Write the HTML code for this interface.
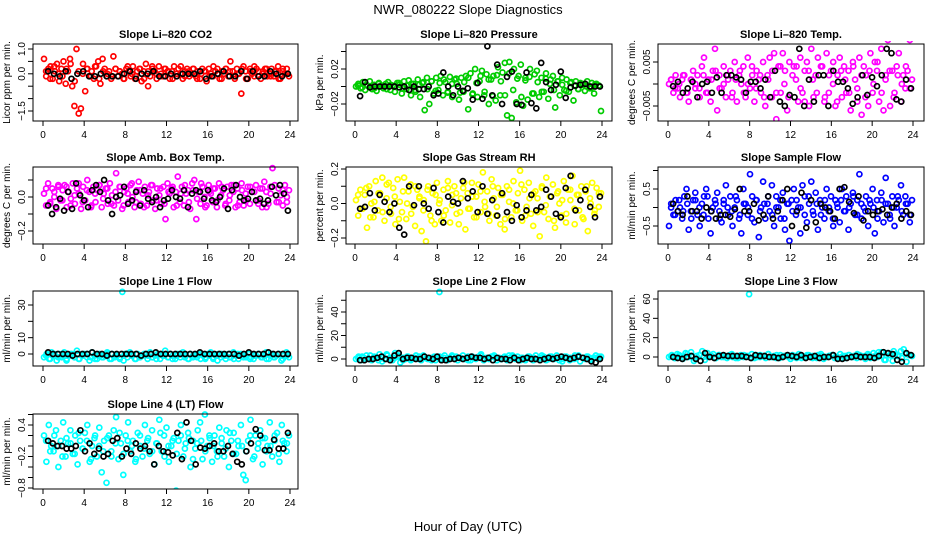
<!DOCTYPE html>
<html><head><meta charset="utf-8"><style>
html,body{margin:0;padding:0;background:#fff;}
svg{display:block;font-family:"Liberation Sans",sans-serif;}
</style></head><body>
<svg id="chart" width="936" height="540" viewBox="0 0 936 540">
<text x="468" y="14" text-anchor="middle" font-size="13">NWR_080222  Slope Diagnostics</text>
<text x="468" y="531" text-anchor="middle" font-size="13">Hour of Day (UTC)</text>
</svg>
<script>
const xTicks = [0,4,8,12,16,20,24];
const co2 = [0.6,-0.1,0.2,0.3,-0.2,0.1,0.4,-0.3,0.2,0.5,-0.4,0.1,0.6,-0.5,-1.3,1.0,-1.6,-1.4,0.4,-0.7,0.2,-0.1,0.1,-0.2,0.3,0.5,-0.4,0.6,0.2,-0.1,0.1,-0.2,0.7,0.2,-0.1,0.1,0.0,-0.2,0.2,0.1,-0.1,0.3,-0.2,0.1,0.2,-0.3,0.1,0.4,-0.5,-0.1,0.2,0.1,-0.2,0.3,0.0,-0.1,0.2,0.1,-0.2,0.1,0.3,-0.1,0.2,0.0,-0.2,0.1,0.2,-0.1,0.0,0.2,-0.1,0.1,-0.2,0.2,0.1,-0.3,0.2,0.0,-0.1,0.1,0.2,-0.2,0.1,0.0,0.2,-0.1,0.5,0.1,-0.2,0.2,0.0,-0.8,0.3,0.1,-0.2,0.2,0.0,-0.1,0.2,0.1,-0.2,0.1,0.2,-0.1,0.0,0.2,-0.1,0.1,0.3,-0.2,0.1,0.0,0.2,-0.1];
const co2Extra = [0.1,-0.2,0.3,0.0,-0.1,0.2,0.4,-0.3,0.1,0.0,0.2,-0.1,0.3,-0.2,0.1,0.0,-0.1,0.2,0.1,-0.2,0.3,0.0,-0.1,0.2,-0.2,0.1,0.3,0.0,-0.1,0.2,0.1,-0.2,0.0,0.3,-0.1,0.1,0.2,-0.2,0.0,0.1,-0.1,0.3,0.0,-0.2,0.2,0.1,-0.1,0.0,0.2,-0.2,0.1,0.3,-0.1,0.0,0.2,-0.1,0.1,-0.2,0.2,0.0];
const co2Hourly = [0.1,0.0,-0.1,0.1,-0.2,0.0,0.1,-0.1,-0.1,0.0,-0.1,-0.1,-0.1,0.0,0.1,-0.2,0.0,0.0,0.1,-0.1,-0.1,0.0,-0.1,0.0,0.0,0.0,0.1,-0.2,-0.1,0.0,0.1,-0.1,-0.1,0.1,-0.2,0.1,-0.1,-0.1,0.1,0.0,-0.1,0.0];
const pres = [0,0.003,-0.002,0.005,-0.004,0.001,0.006,-0.003,0.002,-0.005,0.004,0,-0.002,0.003,0.005,-0.004,0.001,-0.006,0.004,0.002,-0.008,0.006,-0.003,0.007,-0.01,0.003,-0.006,0.008,-0.012,0.004,-0.027,0.01,-0.02,0.006,-0.008,0.01,-0.004,0.012,-0.01,0.005,-0.007,0.011,-0.012,0.008,0.003,-0.015,0.01,-0.006,0.012,-0.026,0.015,-0.008,0.02,-0.012,0.006,0.018,-0.01,0.014,-0.02,0.008,0.012,-0.016,0.022,-0.01,0.016,0.027,-0.033,0.028,-0.036,0.02,-0.018,0.012,0.025,-0.022,0.01,-0.015,0.02,-0.008,0.014,0.018,-0.012,0.01,-0.006,0.015,-0.014,0.008,0.012,-0.024,0.006,-0.01,0.01,-0.004,0.008,-0.006,0.005,-0.016,0.006,-0.003,0.004,0.002,-0.005,0.006,-0.002,0.004,-0.008,0.003,0.001,-0.028];
const presExtra = [0.001,-0.001,0.002,0,-0.002,0.003,0.001,-0.003,0.002,0,0.004,-0.002,0.001,0.003,-0.004,0.002,0.005,-0.003,0.006,-0.005,0.004,0.008,-0.006,0.003,0.009,-0.007,0.005,0.01,-0.009,0.004,0.012,-0.006,0.008,-0.011,0.013,0.006,-0.01,0.015,-0.004,0.009,-0.012,0.007,0.011,-0.008,0.005,-0.006,0.009,0.003,-0.004,0.006,0.002,-0.005,0.004,0.001,-0.003,0.003,0,-0.002,0.002,0.001];
const presHourly = [-0.011,0.005,-0.001,0,0,0,0,0,-0.001,0,-0.004,0.0,-0.003,-0.003,0,-0.01,-0.008,0.016,0,-0.01,0,-0.005,-0.002,-0.015,0.004,-0.014,0.046,-0.01,0.025,-0.02,0.011,0.017,-0.02,-0.021,0.016,-0.019,-0.025,0.027,0.005,-0.004,0.002,0.017,-0.013,-0.001,0.001,0.002,0.003,0,0,0];
const temp = [0,0.001,-0.002,0.002,-0.001,-0.003,0.001,0.002,-0.002,-0.004,0.001,0.003,-0.001,0.002,-0.003,0.004,0.006,-0.002,0.001,-0.004,0.003,0.008,-0.006,0.002,-0.001,0.004,-0.003,0.001,0.003,-0.002,0.005,-0.004,0.002,0,0.004,-0.003,0.006,-0.001,0.002,-0.004,0.003,0.001,-0.002,0.005,-0.005,0.002,0.006,-0.003,0.007,-0.008,0.004,-0.002,0.007,0.003,-0.006,0.005,-0.009,0.004,0.001,-0.004,0.006,-0.002,0.003,0.005,-0.005,0.008,-0.003,0.002,0.006,-0.01,0.004,-0.004,0.007,-0.002,0.003,0.005,-0.005,0.002,0.006,-0.003,0.004,-0.002,0.003,-0.006,0.005,0.001,-0.004,0.006,-0.007,0.004,0.002,-0.005,0.007,-0.002,0.005,0.003,-0.004,0.008,-0.006,0.002,0.01,-0.005,0.003,-0.002,0.004,0.007,-0.004,0.002,-0.001,0.003,0.01,0.001];
const tempExtra = [0.001,-0.001,0,0.002,-0.002,0.001,0,-0.001,0.002,-0.002,0.001,0.003,-0.001,0,0.002,-0.003,0.001,0.003,-0.002,0,0.004,-0.001,0.002,-0.003,0.001,0.003,-0.002,0.004,0,-0.003,0.002,0.004,-0.001,-0.004,0.003,0.001,-0.002,0.004,-0.003,0.002,0,-0.004,0.003,0.001,-0.002,0.004,-0.001,0.002,-0.003,0.003,0,0.005,-0.002,0.001,0.003,-0.003,0.002,0,0.004,-0.001];
const tempHourly = [-0.0005,0.0005,-0.002,-0.001,0.0005,-0.003,0,0.0005,-0.002,0.0015,-0.002,0.002,0.002,0.0015,0.001,-0.002,0.0005,0.0005,-0.001,0.001,-0.003,0.003,-0.004,-0.005,-0.0025,-0.003,0.008,-0.005,0.001,-0.004,0.002,0.002,-0.005,0.003,0.0005,0.0005,-0.001,-0.0045,-0.003,0.002,-0.0025,0.0015,-0.0005,0.002,0.008,0.007,-0.0035,-0.004,0.001,-0.001];
const amb = [0.02,-0.05,0.08,-0.03,0.05,0.0,-0.07,0.06,-0.02,0.04,0.07,-0.06,0.03,-0.01,0.08,-0.04,0.05,0.02,-0.07,0.06,-0.02,0.1,0.03,-0.05,0.06,-0.03,0.04,0.07,-0.06,0.02,0.05,-0.04,0.08,0.01,-0.05,0.14,-0.02,0.06,-0.07,0.03,0.05,-0.03,0.07,0.0,-0.06,0.04,0.09,-0.04,0.02,0.06,-0.05,0.03,0.07,-0.02,-0.07,0.05,0.01,-0.04,0.06,-0.13,0.08,0.02,0.05,-0.06,0.03,0.12,-0.03,0.06,-0.05,0.02,0.04,-0.07,0.08,0.1,-0.13,0.03,-0.04,0.06,0.0,-0.05,0.07,0.02,-0.03,0.05,-0.06,0.08,0.01,0.04,-0.05,0.06,-0.02,0.07,0.03,-0.06,0.05,-0.03,0.08,-0.05,0.02,0.06,-0.04,0.03,-0.44,0.07,-0.02,0.05,-0.06,0.09,0.03,-0.04,0.06,0.17,0.22,-0.03,0.05,0.01,-0.05,0.07,-0.03,0.04];
const ambExtra = [0.05,-0.04,0.03,0.07,-0.02,0.06,-0.05,0.01,0.08,-0.03,0.04,-0.06,0.02,0.07,-0.01,0.05,-0.04,0.03,0.06,-0.05,0.02,0.08,-0.03,0.04,-0.06,0.01,0.07,-0.02,0.05,-0.04,0.03,0.06,-0.05,0.02,0.07,-0.03,0.04,-0.01,0.08,-0.06,0.03,0.05,-0.02,0.06,-0.04,0.01,0.07,-0.05,0.04,-0.02,0.06,0.03,-0.04,0.05,-0.06,0.02,0.07,-0.03,0.04,0.0];
const ambHourly = [-0.05,-0.1,-0.06,-0.01,-0.08,0.03,-0.07,0.08,0.01,-0.02,-0.06,0.04,0.07,0.03,0.1,-0.02,-0.1,0.0,0.01,0.06,-0.04,-0.02,0.03,-0.05,0.04,-0.01,-0.03,0.0,-0.06,-0.02,-0.01,0.04,0.0,-0.01,0.04,-0.06,0.02,0.04,0.03,-0.01,0.04,-0.02,-0.03,0.0,0.05,-0.07,0.04,0.07,0.0,-0.02,-0.01,0.03,-0.02,-0.01,-0.04,-0.02,0.06,0.01,0.07,0.02,-0.08];
const rh = [0.02,-0.07,0.08,-0.03,0.05,-0.14,0.1,0.0,-0.08,0.13,-0.04,0.06,0.15,-0.1,0.03,0.12,-0.06,0.09,-0.12,0.14,0.01,-0.05,0.15,-0.09,0.07,0.11,-0.02,-0.13,0.08,0.04,-0.16,0.02,-0.22,0.1,-0.07,0.06,-0.12,0.12,0.0,-0.1,0.08,-0.04,0.13,-0.11,0.05,0.1,-0.06,-0.12,0.03,0.09,-0.15,0.06,-0.03,0.12,-0.08,0.04,0.11,-0.05,0.18,-0.02,0.07,-0.1,0.14,0.03,-0.07,0.09,-0.12,0.05,-0.15,0.1,0.01,-0.08,0.13,-0.04,0.06,0.19,-0.1,0.08,-0.02,0.12,-0.06,-0.13,0.07,0.03,-0.19,0.1,-0.05,0.15,-0.09,0.04,0.11,-0.14,0.06,0.0,-0.07,0.13,-0.11,0.08,0.02,0.16,-0.12,0.05,-0.04,0.1,-0.09,0.07,-0.16,0.03,0.12,-0.06,0.09,-0.02,0.06];
const rhExtra = [0.05,-0.03,0.09,-0.08,0.01,0.06,-0.05,0.11,-0.02,0.04,-0.09,0.07,0.0,-0.06,0.1,0.03,-0.04,0.08,-0.1,0.05,0.02,-0.07,0.09,-0.01,0.06,-0.05,0.12,-0.03,0.04,-0.08,0.07,0.01,-0.06,0.1,-0.02,0.05,-0.09,0.08,0.0,-0.04,0.11,-0.07,0.03,0.06,-0.05,0.09,-0.01,0.04,-0.1,0.07,0.02,-0.06,0.08,-0.03,0.05,-0.08,0.1,0.0,-0.04,0.06];
const rhHourly = [-0.03,-0.02,0.06,-0.04,0.05,0.01,-0.05,0.0,-0.14,-0.18,0.1,-0.01,0.1,0.0,-0.03,0.09,-0.05,-0.11,0.04,0.01,0.0,0.13,0.03,0.07,-0.05,0.1,-0.06,0.02,-0.07,0.06,-0.05,-0.1,-0.01,-0.08,-0.04,0.05,-0.04,-0.02,0.08,0.04,-0.06,-0.08,0.09,0.16,-0.04,0.02,0.08,-0.02,-0.08,0.04];
const samp = [-0.5,0.1,-0.2,0.2,-0.1,0.0,-0.3,0.3,0.5,-0.6,-0.1,0.2,0.4,-0.2,-0.5,0.1,0.3,0.5,-0.3,-0.7,0.0,0.2,0.4,-0.1,-0.4,0.1,0.6,-0.2,0.3,-0.5,0.0,0.2,-0.3,-0.7,0.5,0.1,-0.2,0.9,0.3,-0.4,0.2,-0.8,0.0,0.7,-0.3,0.1,-0.1,0.6,-0.5,0.3,0.0,-0.3,0.4,-0.6,0.1,-0.9,0.2,0.5,-0.2,0.0,-0.7,0.6,0.3,-0.4,0.1,0.7,-0.2,0.4,-0.6,0.2,0.0,-0.3,0.5,-0.1,0.3,-0.5,0.2,0.0,-0.4,0.5,-0.1,0.3,-0.6,0.1,0.4,-0.2,0.2,0.9,-0.3,0.0,0.3,-0.5,0.1,0.5,-0.7,0.2,-0.1,0.4,-0.4,0.8,0.1,-0.3,0.3,-0.5,0.0,0.2,0.6,-0.2,0.3,0.1,-0.4,0.2];
const sampExtra = [0.0,-0.2,0.2,-0.1,0.1,-0.3,0.2,0.0,-0.2,0.3,-0.1,0.1,-0.3,0.2,0.0,-0.1,0.3,-0.2,0.1,0.0,-0.3,0.2,-0.1,0.1,0.3,-0.2,0.0,0.2,-0.3,0.1,-0.1,0.2,0.0,-0.2,0.3,-0.1,0.1,-0.2,0.2,0.0,-0.3,0.1,0.2,-0.1,0.0,0.3,-0.2,0.1,-0.1,0.2,0.0,-0.3,0.2,0.1,-0.2,0.0,0.3,-0.1,0.1,-0.2];
const sampHourly = [0.1,-0.1,-0.2,0.3,-0.1,-0.1,-0.3,0.0,-0.1,-0.3,-0.2,-0.2,-0.25,-0.05,0.5,-0.1,-0.1,0.1,-0.35,-0.2,0.3,-0.3,-0.1,0.2,0.5,-0.5,-0.1,0.4,-0.55,0.2,-0.4,0.1,0.0,-0.1,-0.3,0.5,0.55,0.15,-0.15,0.3,-0.35,-0.1,-0.2,-0.1,-0.05,-0.2,0.0,0.1,-0.3,-0.1,-0.2];
const line1 = [-2,0,-3,1,-1,-4,0,-2,1,-3,-1,0,-2,2,-3,-1,0,-2,-4,1,-1,-3,0,-2,-1,1,-3,0,-2,-1,-3,38,0,-2,1,-1,-3,0,-2,-1,0,-3,1,-2,-1,0,-3,-1,2,-2,0,-1,-3,0,-2,1,-1,-3,0,-2,-1,0,-3,-1,-2,0,1,-3,-1,0,-2,-1,-3,0,-2,1,-1,-3,0,-2,-1,0,-2,-3,-1,0,-2,-1,1,-3,0,-2,-1,0,-4,-1,1,-2];
const line1Extra = [-1,-3,0,-2,-1,-4,0,-2,-3,-1,0,-2,-3,-1,-2,0,-3,-1,-2,-4,0,-1,-3,-2,0,-1,-2,-3,0,-1,-2,-3,-1,0,-2,-3,-1,-2,0,-3,-1,-2,-4,0,-1,-2,-3,0,-1,-2,-3,-1,0,-2,-3,-1,-2,0,-3,-1];
const line1Hourly = [1,0,0,0,0,-1,0,0,0,1,0,0,-1,0,0,0,0,0,0,-1,0,0,1,0,0,0,0,0,0,0,0,1,0,0,0,0,0,0,0,-1,0,1,0,0,0,1,0,0,0,0];
const line2 = [0,2,-1,1,3,0,-1,2,1,4,-2,0,3,1,-1,5,2,-3,1,0,2,-1,1,3,0,-1,2,1,0,-1,2,1,57,0,3,-1,1,2,0,-1,1,3,0,2,-1,1,0,2,4,-1,1,0,2,3,-1,1,0,2,-1,1,3,0,2,-1,1,0,2,1,-1,3,0,1,2,-1,0,2,1,3,-1,0,2,1,-1,0,3,2,-2,1,0,2,-1,1,3,0,2];
const line2Extra = [1,2,0,3,1,-1,2,4,0,1,3,-1,2,0,1,2,3,0,1,-1,2,1,0,3,2,1,0,-1,2,1,3,0,1,2,-1,0,1,3,2,0,1,-1,2,1,0,3,1,2,0,1,-2,2,1,0,3,1,2,0,1,2];
const line2Hourly = [-1,-1,0,0,1,2,0,-1,3,5,0,1,1,0,0,2,1,0,2,-1,-1,0,0,1,0,1,2,1,1,0,1,-1,1,0,0,-1,1,-1,0,1,0,0,-1,0,1,0,1,2,1,0,1,2,1,0,-2,-3,0];
const line3 = [0,2,-1,3,1,-2,4,0,5,-4,1,2,6,-3,0,1,3,-1,2,0,1,-1,2,0,1,-1,2,0,1,65,3,-1,0,2,1,-1,3,0,1,2,-1,0,1,2,-2,0,1,3,-1,0,2,1,-1,0,2,1,-2,0,1,2,-1,0,3,1,-1,2,0,1,-1,2,0,1,3,-1,0,2,5,1,-3,4,2,-4,3,1,6,8,-5,2,1];
const line3Extra = [1,-1,2,0,3,1,-2,2,0,4,1,-1,2,0,1,3,-1,0,2,1,-1,2,0,1,3,0,-1,2,1,0,2,-1,1,0,2,1,-1,3,0,1,2,0,-1,1,2,0,3,1,-2,2,4,0,5,-3,2,6,1,-1,3,2];
const line3Hourly = [0,-1,-2,0,1,-2,-4,4,0,-1,1,2,1,1,1,1,0,-1,2,1,1,0,0,-1,0,2,1,0,2,-1,0,1,-1,0,0,2,-2,-2,-1,0,1,0,0,0,-1,1,5,4,3,-3,-5,4,2];
const line4 = [0.2,-0.3,0.4,0.0,-0.1,0.3,-0.4,0.1,0.45,-0.2,0.05,0.3,-0.15,0.2,-0.35,0.1,-0.05,0.25,0.4,-0.3,0.0,0.15,-0.2,0.35,-0.5,0.1,-0.7,0.2,-0.1,0.3,0.55,-0.25,0.05,-0.55,0.2,0.45,-0.1,0.1,-0.3,0.25,0.0,-0.2,0.4,0.1,-0.15,0.3,-0.35,0.05,0.5,-0.1,0.2,0.35,-0.3,0.0,0.15,-0.85,0.1,0.4,-0.2,0.05,0.25,-0.4,0.1,-0.05,0.3,0.45,-0.25,0.6,0.0,0.15,-0.3,0.2,-0.1,0.35,0.05,-0.2,0.3,-0.4,0.1,0.25,-0.15,0.0,0.4,-0.55,-0.65,0.1,0.5,-0.25,0.2,-0.05,0.3,-0.35,0.15,0.0,0.45,-0.2,0.1,0.25,-0.3,0.4,0.05,-0.1,0.2];
const line4Extra = [0.1,-0.1,0.2,0.0,-0.2,0.15,0.05,-0.15,0.25,-0.05,0.1,-0.25,0.2,0.0,-0.1,0.15,-0.2,0.05,0.25,-0.15,0.1,0.0,-0.25,0.2,-0.05,0.15,-0.1,0.05,0.25,-0.2,0.0,0.1,-0.15,0.2,-0.05,0.15,-0.25,0.05,0.1,-0.1,0.2,0.0,-0.2,0.15,-0.05,0.25,-0.15,0.1,0.0,-0.1,0.2,-0.2,0.05,0.15,-0.1,0.0,0.2,-0.15,0.1,0.05];
const line4Hourly = [0.1,0.05,0.0,0.0,-0.05,-0.05,0.0,0.3,-0.1,0.05,-0.15,-0.05,-0.2,-0.15,0.1,0.15,-0.2,-0.05,-0.15,0.05,-0.05,0.0,-0.1,-0.35,0.0,-0.1,-0.12,-0.18,0.25,-0.25,0.45,0.1,-0.35,-0.03,-0.05,0.0,0.05,-0.1,-0.1,0.0,-0.15,-0.3,-0.35,-0.1,0.05,0.32,0.2,-0.08,-0.08,0.12,-0.05,-0.05,0.25];

const NS = "http://www.w3.org/2000/svg";
const svg = document.getElementById('chart');
function mk(tag, attrs, parent){ const e=document.createElementNS(NS,tag); for(const k in attrs) e.setAttribute(k,attrs[k]); (parent||svg).appendChild(e); return e; }

const cols = [{l:33,r:298,x0:43,x24:290},{l:346,r:612,x0:355,x24:602},{l:658,r:924,x0:668,x24:913}];
const rows = [{t:44,b:121},{t:167,b:244},{t:291,b:366},{t:414,b:489}];

const panels = [
 {name:'co2',title:'Slope Li\u2013820 CO2',ylab:'Licor ppm per min.',c:0,r:0,color:'#ff0000',data:co2,extra:co2Extra,hourly:co2Hourly,v1:1.0,p1:49,v2:-1.5,p2:111,ticks:[1.0,0.5,0,-0.5,-1.0,-1.5],labels:{'1':'1.0','0':'0.0','-1.5':'\u22121.5'}},
 {name:'pressure',title:'Slope Li\u2013820 Pressure',ylab:'kPa per min.',c:1,r:0,color:'#00cc00',data:pres,extra:presExtra,hourly:presHourly,v1:0.02,p1:69,v2:-0.02,p2:104,ticks:[0.04,0.02,0,-0.02],labels:{'0.02':'0.02','-0.02':'\u22120.02'}},
 {name:'temp',title:'Slope Li\u2013820 Temp.',ylab:'degrees C per min.',c:2,r:0,color:'#ff00ff',data:temp,extra:tempExtra,hourly:tempHourly,v1:0.005,p1:62,v2:-0.005,p2:106,ticks:[0.005,0,-0.005],labels:{'0.005':'0.005','-0.005':'\u22120.005'}},
 {name:'amb-box-temp',title:'Slope Amb. Box Temp.',ylab:'degrees C per min.',c:0,r:1,color:'#ff00ff',data:amb,extra:ambExtra,hourly:ambHourly,v1:0,p1:197,v2:-0.2,p2:231,ticks:[0.1,0,-0.1,-0.2],labels:{'0':'0.0','-0.2':'\u22120.2'}},
 {name:'gas-stream-rh',title:'Slope Gas Stream RH',ylab:'percent per min.',c:1,r:1,color:'#ffff00',data:rh,extra:rhExtra,hourly:rhHourly,v1:0.2,p1:169,v2:-0.2,p2:238,ticks:[0.2,0.1,0,-0.1,-0.2],labels:{'0.2':'0.2','0':'0.0','-0.2':'\u22120.2'}},
 {name:'sample-flow',title:'Slope Sample Flow',ylab:'ml/min per min.',c:2,r:1,color:'#0000ff',data:samp,extra:sampExtra,hourly:sampHourly,v1:0.5,p1:189,v2:-0.5,p2:226,ticks:[1.0,0.5,0,-0.5],labels:{'0.5':'0.5','-0.5':'\u22120.5'}},
 {name:'line1-flow',title:'Slope Line 1 Flow',ylab:'ml/min per min.',c:0,r:2,color:'#00ffff',data:line1,extra:line1Extra,hourly:line1Hourly,v1:30,p1:305,v2:0,p2:354,ticks:[30,20,10,0],labels:{'30':'30','10':'10','0':'0'}},
 {name:'line2-flow',title:'Slope Line 2 Flow',ylab:'ml/min per min.',c:1,r:2,color:'#00ffff',data:line2,extra:line2Extra,hourly:line2Hourly,v1:40,p1:312,v2:0,p2:359,ticks:[50,40,30,20,10,0],labels:{'40':'40','20':'20','0':'0'}},
 {name:'line3-flow',title:'Slope Line 3 Flow',ylab:'ml/min per min.',c:2,r:2,color:'#00ffff',data:line3,extra:line3Extra,hourly:line3Hourly,v1:60,p1:299,v2:0,p2:357,ticks:[60,40,20,0],labels:{'60':'60','40':'40','20':'20','0':'0'}},
 {name:'line4-flow',title:'Slope Line 4 (LT) Flow',ylab:'ml/min per min.',c:0,r:3,color:'#00ffff',data:line4,extra:line4Extra,hourly:line4Hourly,v1:0.4,p1:425,v2:-0.8,p2:488,ticks:[0.6,0.4,0.2,0,-0.2,-0.4,-0.6,-0.8],labels:{'0.4':'0.4','-0.2':'\u22120.2','-0.8':'\u22120.8'}}
];

panels.forEach(p=>{
  const col=cols[p.c], row=rows[p.r];
  const xs = h => col.x0 + (col.x24-col.x0)*h/24;
  const ys = v => p.p1 + (v-p.v1)*(p.p2-p.p1)/(p.v2-p.v1);
  const g = mk('g',{});
  
  
  const t = mk('text',{x:(col.l+col.r)/2,y:row.t-6,'text-anchor':'middle','font-size':11,'font-weight':'bold'},g);
  t.textContent = p.title;
  
  
  const yl = mk('text',{x:0,y:0,'text-anchor':'middle','font-size':10,transform:`translate(${col.l-23},${(row.t+row.b)/2}) rotate(-90)`},g);
  yl.textContent = p.ylab;
  
  
  const clipId = 'clip-'+p.name;
  const cp = mk('clipPath',{id:clipId},g);
  mk('rect',{x:col.l,y:row.t-3,width:col.r-col.l,height:row.b-row.t+3},cp);
  const pg = mk('g',{'clip-path':`url(#${clipId})`},g);
  const n = p.data.length;
  p.data.forEach((v,i)=>{
    const h = 0.1 + 23.8*i/(n-1);
    const c = mk('circle',{cx:xs(h).toFixed(1),cy:ys(v).toFixed(1),r:2.5,fill:'none',stroke:p.color,'stroke-width':1.7},pg);
    
    
  });
  const ne = p.extra.length;
  p.extra.forEach((v,i)=>{
    const h = 0.3 + 23.4*i/(ne-1);
    const c = mk('circle',{cx:xs(h).toFixed(1),cy:ys(v).toFixed(1),r:2.5,fill:'none',stroke:p.color,'stroke-width':1.7},pg);
    
    
  });
  const m = p.hourly.length;
  p.hourly.forEach((v,i)=>{
    const h = 0.5 + 23.3*i/(m-1);
    const c = mk('circle',{cx:xs(h).toFixed(1),cy:ys(v).toFixed(1),r:2.5,fill:'none',stroke:'#000','stroke-width':1.7},pg);
    
    
  });
  const box = mk('rect',{x:col.l,y:row.t,width:col.r-col.l,height:row.b-row.t,fill:'none',stroke:'#000','stroke-width':1},g);
  
  
  xTicks.forEach(h=>{
    const x=xs(h);
    mk('line',{x1:x,x2:x,y1:row.b,y2:row.b+5,stroke:'#000'},g);
    const tl = mk('text',{x:x,y:row.b+17,'text-anchor':'middle','font-size':10},g);
    tl.textContent = h;
    
    
  });
  p.ticks.forEach(v=>{
    const y=ys(v);
    mk('line',{x1:col.l-5,x2:col.l,y1:y,y2:y,stroke:'#000'},g);
    const key = String(v);
    if(p.labels[key]!==undefined){
      const tl = mk('text',{x:0,y:0,'text-anchor':'middle','font-size':10,transform:`translate(${col.l-8},${y}) rotate(-90)`},g);
      tl.textContent = p.labels[key];
      
      
    }
  });
});
</script>
</body></html>
